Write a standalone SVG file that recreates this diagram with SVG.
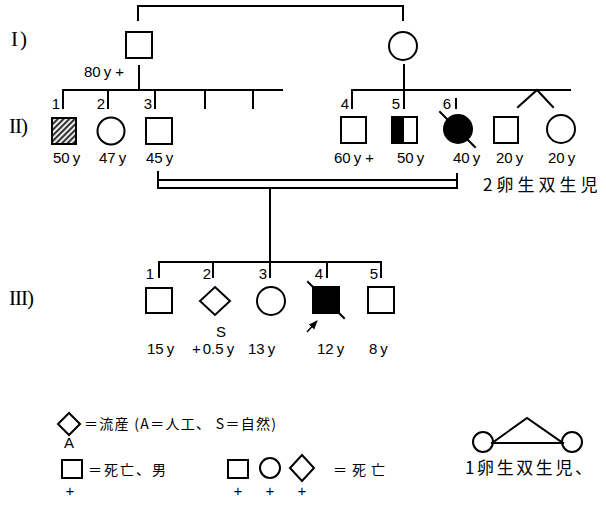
<svg xmlns="http://www.w3.org/2000/svg" width="606" height="506" viewBox="0 0 606 506">
  <defs>
    <style>
      .ln { stroke: #000; stroke-width: 2; fill: none; stroke-linecap: square; }
      .sh { stroke: #000; stroke-width: 2; fill: #fff; }
      .fill { fill: #000; }
      .num { font-family: "Liberation Sans", Arial, sans-serif; font-size: 15px; fill: #000; }
      .gen { font-family: "Liberation Serif", "Times New Roman", serif; font-size: 21px; fill: #000; }
      .jp { font-family: "Noto Sans CJK JP", "Noto Sans", sans-serif; font-size: 14px; fill: #000; }
      .twin { font-family: "Noto Sans CJK JP", "Noto Sans", sans-serif; font-size: 17px; fill: #000; }
    </style>
    <pattern id="hatch" width="4" height="4" patternUnits="userSpaceOnUse" patternTransform="rotate(45)">
      <rect width="4" height="4" fill="#fff"/>
      <rect width="2.2" height="4" fill="#333"/>
    </pattern>
    <marker id="arrow" viewBox="0 0 10 10" refX="9" refY="5" markerWidth="6" markerHeight="6" orient="auto">
      <path d="M0,1 L10,5 L0,9 z" fill="#000"/>
    </marker>
  </defs>

  <rect width="606" height="506" fill="#fff"/>

  <!-- generation labels -->
  <text class="gen" x="11" y="46" letter-spacing="2">I)</text>
  <text class="gen" x="9" y="133" letter-spacing="-1">II)</text>
  <text class="gen" x="9" y="305" letter-spacing="-1">III)</text>

  <!-- connectors -->
  <g id="connectors">
    <!-- generation I marriage -->
    <polyline class="ln" points="138,20 138,6 403,6 403,20"/>
    <!-- father's sibship -->
    <line class="ln" x1="139" y1="66" x2="139" y2="90"/>
    <line class="ln" x1="63" y1="90" x2="282" y2="90"/>
    <line class="ln" x1="63" y1="90" x2="63" y2="108"/>
    <line class="ln" x1="108" y1="90" x2="108" y2="108"/>
    <line class="ln" x1="155" y1="90" x2="155" y2="108"/>
    <line class="ln" x1="205" y1="90" x2="205" y2="108"/>
    <line class="ln" x1="253" y1="90" x2="253" y2="108"/>
    <!-- mother's sibship -->
    <line class="ln" x1="404" y1="65" x2="404" y2="90"/>
    <line class="ln" x1="352" y1="90" x2="570" y2="90"/>
    <line class="ln" x1="352" y1="90" x2="352" y2="108"/>
    <line class="ln" x1="404" y1="90" x2="404" y2="108"/>
    <line class="ln" x1="456" y1="99" x2="456" y2="108"/>
    <polyline class="ln" points="518,107 537,90 553,107"/>
    <!-- consanguineous marriage (double line) -->
    <line class="ln" x1="158" y1="172" x2="158" y2="188"/>
    <line class="ln" x1="457" y1="174" x2="457" y2="188"/>
    <line class="ln" x1="158" y1="180" x2="457" y2="180"/>
    <line class="ln" x1="158" y1="188" x2="457" y2="188"/>
    <!-- generation III sibship -->
    <line class="ln" x1="270" y1="188" x2="270" y2="262"/>
    <line class="ln" x1="159" y1="262" x2="381" y2="262"/>
    <line class="ln" x1="159" y1="262" x2="159" y2="277"/>
    <line class="ln" x1="213" y1="262" x2="213" y2="277"/>
    <line class="ln" x1="270" y1="262" x2="270" y2="277"/>
    <line class="ln" x1="327" y1="262" x2="327" y2="277"/>
    <line class="ln" x1="381" y1="262" x2="381" y2="277"/>
  </g>

  <!-- generation I -->
  <g id="I-1">
    <rect class="sh" x="126" y="32" width="26" height="26"/>
    <text class="num" x="84" y="77">80<tspan dx="3">y</tspan><tspan dx="4">+</tspan></text>
  </g>
  <g id="I-2">
    <circle class="sh" cx="403" cy="46" r="14"/>
  </g>

  <!-- generation II -->
  <g id="II-1">
    <text class="num" x="60" y="109" text-anchor="end">1</text>
    <rect x="52" y="118" width="24" height="26" fill="url(#hatch)" stroke="#000" stroke-width="2"/>
    <text class="num" x="53" y="163">50<tspan dx="3">y</tspan></text>
  </g>
  <g id="II-2">
    <text class="num" x="105" y="109" text-anchor="end">2</text>
    <circle class="sh" cx="111" cy="131" r="13.5"/>
    <text class="num" x="99" y="163">47<tspan dx="3">y</tspan></text>
  </g>
  <g id="II-3">
    <text class="num" x="152" y="109" text-anchor="end">3</text>
    <rect class="sh" x="146" y="118" width="26" height="26"/>
    <text class="num" x="146" y="163">45<tspan dx="3">y</tspan></text>
  </g>
  <g id="II-4">
    <text class="num" x="349" y="109" text-anchor="end">4</text>
    <rect class="sh" x="341" y="117" width="25" height="26"/>
    <text class="num" x="334" y="163">60<tspan dx="3">y</tspan><tspan dx="4">+</tspan></text>
  </g>
  <g id="II-5">
    <text class="num" x="400" y="109" text-anchor="end">5</text>
    <rect class="sh" x="392" y="117" width="25" height="26"/>
    <rect class="fill" x="392" y="117" width="12" height="26"/>
    <text class="num" x="397" y="163">50<tspan dx="3">y</tspan></text>
  </g>
  <g id="II-6">
    <text class="num" x="451" y="109" text-anchor="end">6</text>
    <circle cx="458" cy="129" r="14" fill="#000" stroke="#000" stroke-width="2"/>
    <line class="ln" x1="440" y1="112" x2="475" y2="147" stroke-linecap="butt"/>
    <text class="num" x="453" y="163">40<tspan dx="3">y</tspan></text>
  </g>
  <g id="II-7">
    <rect class="sh" x="494" y="117" width="24" height="26"/>
    <text class="num" x="496" y="163">20<tspan dx="3">y</tspan></text>
  </g>
  <g id="II-8">
    <circle class="sh" cx="561" cy="129" r="14"/>
    <text class="num" x="548" y="163">20<tspan dx="3">y</tspan></text>
  </g>
  <text class="twin" x="483" y="191" letter-spacing="4">2卵生双生児</text>

  <!-- generation III -->
  <g id="III-1">
    <text class="num" x="154" y="279" text-anchor="end">1</text>
    <rect class="sh" x="146" y="288" width="26" height="25"/>
    <text class="num" x="147" y="354">15<tspan dx="3">y</tspan></text>
  </g>
  <g id="III-2">
    <text class="num" x="211" y="279" text-anchor="end">2</text>
    <polygon class="sh" points="215,287 230,301 215,315 200,301"/>
    <text class="num" x="221" y="337" text-anchor="middle">S</text>
    <text class="num" x="192" y="354">+<tspan dx="2">0.5</tspan><tspan dx="3">y</tspan></text>
  </g>
  <g id="III-3">
    <text class="num" x="267" y="279" text-anchor="end">3</text>
    <circle class="sh" cx="271" cy="301" r="14"/>
    <text class="num" x="248" y="354">13<tspan dx="3">y</tspan></text>
  </g>
  <g id="III-4">
    <text class="num" x="323" y="279" text-anchor="end">4</text>
    <rect x="313" y="287" width="26" height="26" fill="#000" stroke="#000" stroke-width="2"/>
    <line class="ln" x1="308" y1="282" x2="344" y2="318" stroke-linecap="butt"/>
    <line x1="307" y1="332" x2="317" y2="321" stroke="#000" stroke-width="1.5" marker-end="url(#arrow)"/>
    <text class="num" x="317" y="354">12<tspan dx="3">y</tspan></text>
  </g>
  <g id="III-5">
    <text class="num" x="378" y="279" text-anchor="end">5</text>
    <rect class="sh" x="368" y="287" width="26" height="26"/>
    <text class="num" x="369" y="354">8<tspan dx="3">y</tspan></text>
  </g>

  <!-- legend -->
  <g id="legend-abortion">
    <polygon class="sh" points="69,413 80,424 69,435 58,424"/>
    <text class="num" x="69" y="448" text-anchor="middle">A</text>
    <text class="jp" x="84" y="429" letter-spacing="1.3">＝流産 (A＝人工、 S＝自然)</text>
  </g>
  <g id="legend-dead-male">
    <rect class="sh" x="62" y="460" width="20" height="18"/>
    <text class="num" x="70" y="496" text-anchor="middle">+</text>
    <text class="jp" x="88" y="475" letter-spacing="2">＝死亡、男</text>
  </g>
  <g id="legend-dead">
    <rect class="sh" x="228" y="460" width="20" height="18"/>
    <circle class="sh" cx="270" cy="468" r="10"/>
    <polygon class="sh" points="302,455 314,468 302,481 290,468"/>
    <text class="num" x="238" y="496" text-anchor="middle">+</text>
    <text class="num" x="270" y="496" text-anchor="middle">+</text>
    <text class="num" x="302" y="496" text-anchor="middle">+</text>
    <text class="jp" x="333" y="475" font-size="15" letter-spacing="5">＝死亡</text>
  </g>
  <g id="legend-mz-twins">
    <circle class="sh" cx="483" cy="442" r="10"/>
    <circle class="sh" cx="572" cy="442" r="10"/>
    <polyline class="ln" points="492,443 527,418 563,443"/>
    <line class="ln" x1="492" y1="443" x2="563" y2="443"/>
    <text class="twin" x="465" y="474" letter-spacing="2.6">1卵生双生児、</text>
  </g>
</svg>
